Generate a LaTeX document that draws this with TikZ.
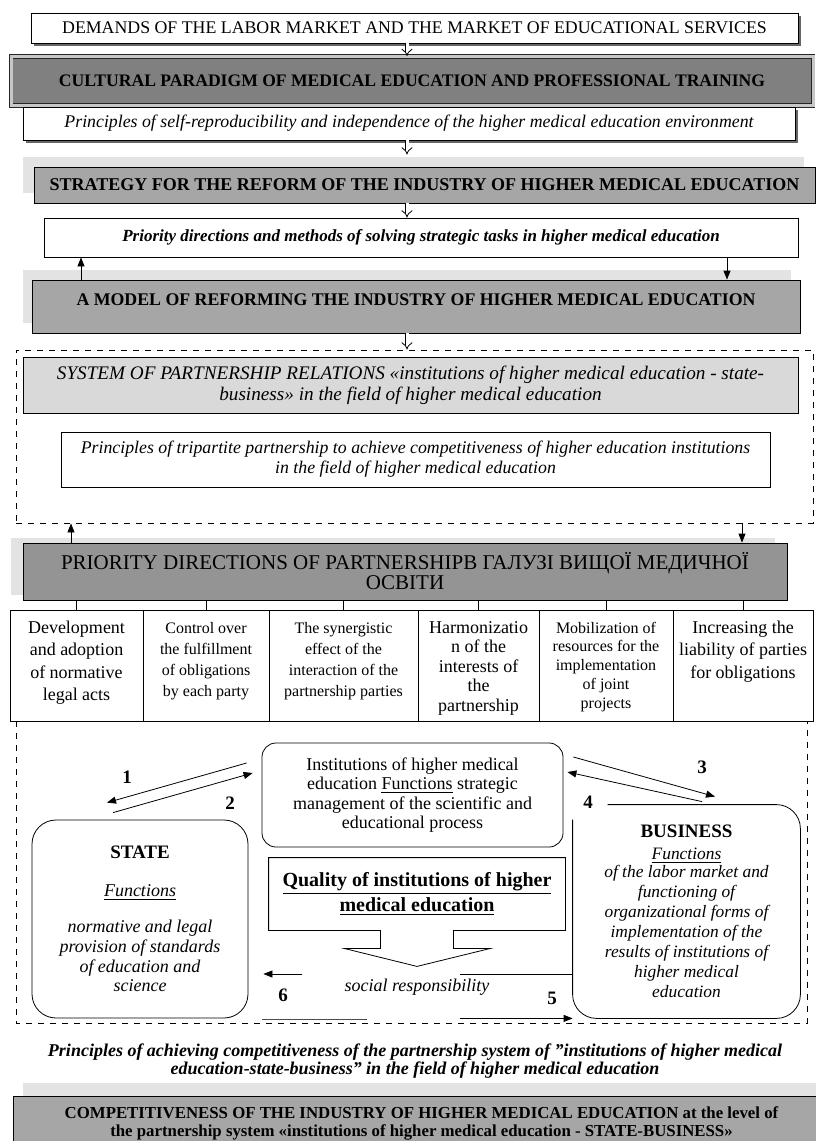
\documentclass[tikz,border=0pt]{standalone}
\usepackage{fontspec}
\setmainfont{Liberation Serif}
\usepackage{tikz}
\usetikzlibrary{arrows.meta,positioning,calc,fit,shadows}
\newcommand{\fsz}[2]{\fontsize{#1}{#2}\selectfont}
\tikzset{
  whitebox/.style={draw, fill=white, inner sep=0pt, align=center},
  shadebox/.style={whitebox, drop shadow={shadow xshift=1.6pt, shadow yshift=-1.6pt,
                   fill=black!60, opacity=1}},
  graybox/.style={draw, fill=black!35, inner sep=0pt, align=center,
                  font=\fsz{8.9}{10}\bfseries},
  softshadow/.style 2 args={general shadow={shadow xshift=#1, shadow yshift=#2, fill=black!11}},
  cellbox/.style={draw, fill=white, anchor=north west, inner xsep=1.5pt, inner ysep=0pt,
                  outer sep=0pt, align=center},
  roundbox/.style={draw, rounded corners=7pt, inner sep=0pt, align=center},
  dashbox/.style={draw, dashed, inner sep=0pt},
  hollow/.style={double, double distance=1.5pt, thin, -{Implies}},
  sarrow/.style={thin, -{Triangle[length=4.5pt,width=3.5pt]}},
  numlab/.style={font=\fsz{9.5}{11}\bfseries}
}

\begin{document}
\begin{tikzpicture}[x=0.5pt, y=-0.5pt]
    \useasboundingbox (0,0) rectangle (815,1141);
    \def\xM{407}
    \coordinate (xm) at (\xM,0);
    \coordinate (xl) at (81,0);  \coordinate (xr) at (727,0);
    \coordinate (xll) at (71,0); \coordinate (xrr) at (742,0);

    % Upper chain
    \node[shadebox, minimum width=383.5pt, minimum height=15pt, font=\fsz{8.9}{10}] (demand) at (414.5,28)
      {DEMANDS OF THE LABOR MARKET AND THE MARKET OF EDUCATIONAL SERVICES};
    \node[graybox, fill=black!50, draw=black!85, double=black!22, double distance=1.5pt,
          minimum width=401pt, minimum height=24.5pt, font=\fsz{8.8}{10}\bfseries] (cultural) at (412,81)
      {CULTURAL PARADIGM OF MEDICAL EDUCATION AND PROFESSIONAL TRAINING};
    \node[shadebox, minimum width=386pt, minimum height=16.5pt, font=\fsz{8.9}{10}\itshape] (selfrep) at (409,123.5)
      {Principles of self-reproducibility and independence of the higher medical education environment};
    \node[graybox, softshadow={-5.5pt}{5pt}, minimum width=390.5pt, minimum height=18pt, font=\fsz{9}{10}\bfseries] (strategy) at (424.5,185)
      {STRATEGY FOR THE REFORM OF THE INDUSTRY OF HIGHER MEDICAL EDUCATION};
    \node[whitebox, minimum width=377pt, minimum height=19.5pt, font=\fsz{8.5}{10}\bfseries\itshape] (methods) at (421,237.5)
      {Priority directions and methods of solving strategic tasks in higher medical education};
    \node[graybox, softshadow={-4.5pt}{5pt}, minimum width=384pt, minimum height=26.5pt, text depth=6.5pt] (model) at (416,306.5)
      {A MODEL OF REFORMING THE INDUSTRY OF HIGHER MEDICAL EDUCATION};

    \draw[hollow] (demand.south -| xm) -- (cultural.north -| xm);
    \draw[hollow, shorten >=6pt] (selfrep.south -| xm) -- (strategy.north -| xm);
    \draw[hollow] (strategy.south -| xm) -- (methods.north -| xm);
    \draw[sarrow] (model.north -| xl) -- (methods.south -| xl);
    \draw[sarrow] (methods.south -| xr) -- (model.north -| xr);

    % Partnership relations
    \node[dashbox, fit={(16,350) (813,523)}] (part) {};
    \draw[hollow] (model.south -| xm) -- (part.north -| xm);
    \node[whitebox, fill=black!15, minimum width=387.5pt, minimum height=28pt, font=\fsz{9.6}{10.5}\itshape] (system) at (410.5,385)
      {SYSTEM OF PARTNERSHIP RELATIONS «institutions of higher medical education - state-\\
       business» in the field of higher medical education};
    \node[whitebox, minimum width=354.5pt, minimum height=27.5pt, font=\fsz{8.9}{10}\itshape] (tripart) at (415.5,459.5)
      {Principles of tripartite partnership to achieve competitiveness of higher education institutions\\
       in the field of higher medical education};

    % Priority directions
    \node[graybox, fill=black!42, softshadow={-6pt}{2.5pt}, minimum width=382pt, minimum height=28.5pt,
          font=\fsz{10.5}{10}] (prio) at (405,571.5)
      {PRIORITY DIRECTIONS OF PARTNERSHIPВ ГАЛУЗІ ВИЩОЇ МЕДИЧНОЇ\\ОСВІТИ};
    \draw[sarrow] (prio.north -| xll) -- (part.south -| xll);
    \draw[sarrow] (part.south -| xrr) -- (prio.north -| xrr);

    \node[cellbox, minimum width=66.5pt, font=\fsz{9}{11.25}, text height=45.25pt, text depth=10.25pt] (c1) at (10,610)
      {Development\\and adoption\\of normative\\legal acts};
    \node[cellbox, minimum width=63pt, font=\fsz{8}{10.5}, text height=43pt, text depth=12.5pt, right=0pt of c1] (c2)
      {Control over\\the fulfillment\\of obligations\\by each party};
    \node[cellbox, minimum width=74.5pt, font=\fsz{8}{10.5}, text height=43pt, text depth=12.5pt, right=0pt of c2] (c3)
      {The synergistic\\effect of the\\interaction of the\\partnership parties};
    \node[cellbox, minimum width=60.5pt, font=\fsz{9}{9.75}, text height=50.5pt, text depth=5pt, right=0pt of c3] (c4)
      {Harmonizatio\\n of the\\interests of\\the\\partnership};
    \node[cellbox, minimum width=67pt, font=\fsz{8}{9.4}, text height=49.1pt, text depth=6.4pt, right=0pt of c4] (c5)
      {Mobilization of\\resources for the\\implementation\\of joint\\projects};
    \node[cellbox, minimum width=70pt, font=\fsz{9}{11.25}, text height=34pt, text depth=21.5pt, right=0pt of c5] (c6)
      {Increasing the\\liability of parties\\for obligations};
    \foreach \c in {c1,c2,c3,c4,c5,c6}
      \draw (\c.north) -- (\c.north |- prio.south);

    % Tripartite core
    \draw[dashed] (16,721) |- (807,1023) -- (807,721);
    \node[roundbox, minimum width=150.5pt, minimum height=52pt, font=\fsz{9}{9.6}] (inst) at (412.5,795)
      {Institutions of higher medical\\education \underline{Functions} strategic\\management of the scientific and\\educational process};
    \node[roundbox, rounded corners=12pt, minimum width=108pt, minimum height=99pt, font=\fsz{9}{9.85}\itshape] (state) at (140,919)
      {{\upshape\bfseries\fsz{9.5}{10}STATE}\\[9pt]\underline{Functions}\\[8.5pt]
       normative and legal\\provision of standards\\of education and\\science};
    \node[align=center, inner sep=0pt, minimum width=113.5pt, minimum height=106.5pt, font=\fsz{8.7}{10}\itshape] (bus) at (686.5,911.5)
      {{\upshape\bfseries\fsz{9.5}{10}BUSINESS}\\[1pt]\underline{Functions}\\[-1pt]
       of the labor market and\\functioning of\\organizational forms of\\implementation of the\\
       results of institutions of\\higher medical\\education};
    \draw[rounded corners=12pt] ($(bus.north west)+(0,15)$) -- (bus.south west) -- (bus.south east)
      -- (bus.north east) -- ($(bus.north west)+(35,0)$);
    \node[align=center, inner sep=0pt, minimum width=148pt, minimum height=36pt, font=\fsz{10}{12.5}\bfseries] (qual) at (417,894)
      {\underline{Quality of institutions of higher}\\\underline{medical education}};
    \draw (qual.south west) -- (qual.north west) -- (qual.north east) -- (qual.south east)
      -- ($(qual.south)+(36.5,0)$) -- ++(0,18) -- ++(37,0) -- ($(qual.south)+(0,36)$)
      -- ++(-73,-18) -- ++(36.5,0) -- ++(0,-18) -- cycle;

    \draw[sarrow] ($(inst.west)+(-15,-32)$) -- ($(state.north)+(-33,-17)$);
    \draw[sarrow] ($(state.north)+(-27,-7)$) -- ($(inst.west)+(-9,-22)$);
    \draw[sarrow] ($(inst.east)+(10,-38)$) -- ($(bus.north)+(28.5,-8)$);
    \draw[sarrow] ($(bus.north)+(15.5,-3)$) -- ($(inst.east)+(4,-23)$);
    \node[numlab] (n1) at (127,777) {1};
    \node[numlab] (n2) at (230,803) {2};
    \node[numlab] (n3) at (702,767) {3};
    \node[numlab] (n4) at (588,802) {4};

    \node[font=\fsz{9}{10}\itshape] (social) at (417,987) {social responsibility};
    \draw[sarrow] ($(state.east)+(54,55)$) -- ($(state.east)+(15,55)$);
    \draw[black!70] ($(state.south east)+(14,1)$) -- ++(105,0);
    \draw ($(bus.west)+(-113,62.5)$) -- ++(113,0);
    \draw[sarrow] ($(bus.south west)+(-113,0)$) -- (bus.south west);
    \node[numlab] (n5) at (552,998) {5};
    \node[numlab] (n6) at (283,995) {6};

    % Result
    \node[align=center, font=\fsz{9}{9}\bfseries\itshape] (achieve) at (415,1061)
      {Principles of achieving competitiveness of the partnership system of "institutions of higher medical\\
       education-state-business" in the field of higher medical education};
    \node[graybox, softshadow={5pt}{6.5pt}, minimum width=408.5pt, minimum height=27pt, font=\fsz{8.4}{9}\bfseries] (compet) at (421.5,1123)
      {COMPETITIVENESS OF THE INDUSTRY OF HIGHER MEDICAL EDUCATION at the level of\\
       the partnership system «institutions of higher medical education - STATE-BUSINESS»};
\end{tikzpicture}
\end{document}
